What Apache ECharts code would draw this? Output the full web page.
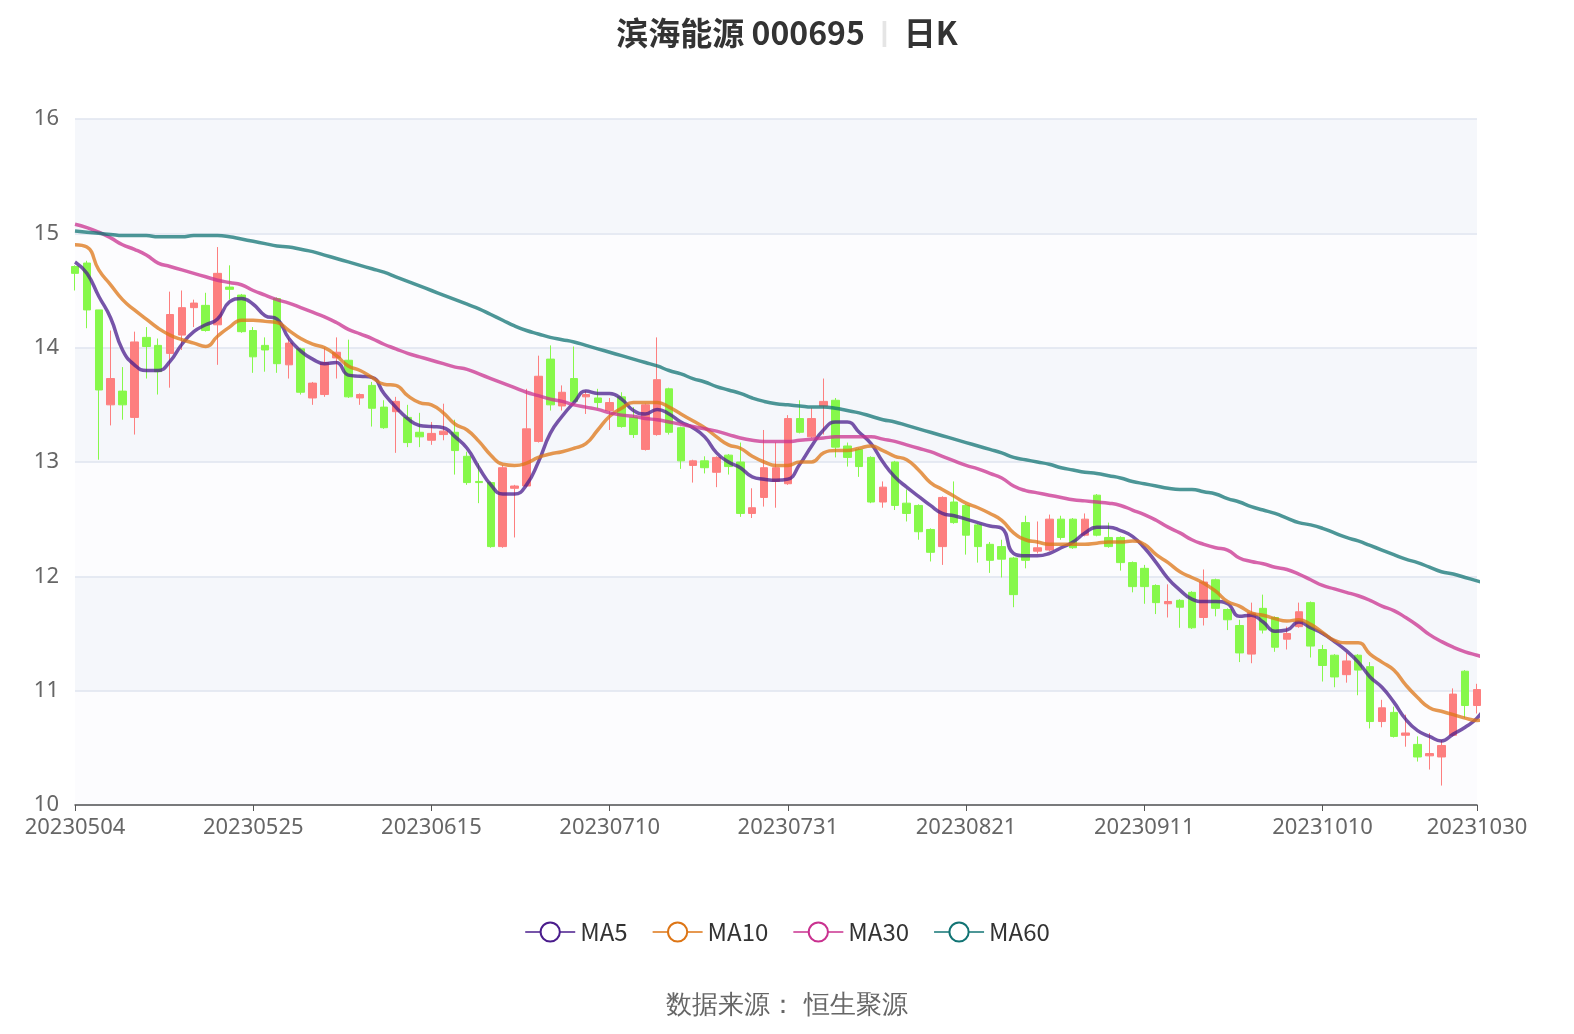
<!DOCTYPE html>
<html><head><meta charset="utf-8">
<script src="https://cdn.jsdelivr.net/npm/echarts@6/dist/echarts.min.js"></script>
<style>html,body{margin:0;padding:0;background:#fff}#c{width:1574px;height:1034px}</style>
</head><body><div id="c"></div>
<script>
const dates = ['20230504','20230505','20230508','20230509','20230510','20230511','20230512','20230515','20230516','20230517','20230518','20230519','20230522','20230523','20230524','20230525','20230526','20230529','20230530','20230531',
'20230601','20230602','20230605','20230606','20230607','20230608','20230609','20230612','20230613','20230614','20230615','20230616','20230619','20230620','20230621','20230626','20230627','20230628','20230629','20230630',
'20230703','20230704','20230705','20230706','20230707','20230710','20230711','20230712','20230713','20230714','20230717','20230718','20230719','20230720','20230721','20230724','20230725','20230726','20230727','20230728','20230731',
'20230801','20230802','20230803','20230804','20230807','20230808','20230809','20230810','20230811','20230814','20230815','20230816','20230817','20230818','20230821','20230822','20230823','20230824','20230825','20230828','20230829','20230830','20230831',
'20230901','20230904','20230905','20230906','20230907','20230908','20230911','20230912','20230913','20230914','20230915','20230918','20230919','20230920','20230921','20230922','20230925','20230926','20230927','20230928',
'20231009','20231010','20231011','20231012','20231013','20231016','20231017','20231018','20231019','20231023','20231024','20231025','20231026','20231027','20231030'];
// [open, close, low, high]
const ohlc = [
[14.71,14.65,14.50,14.72],[14.74,14.33,14.17,14.76],[14.33,13.63,13.02,14.33],[13.50,13.73,13.32,14.15],[13.62,13.50,13.37,13.83],
[13.39,14.05,13.24,14.14],[14.09,14.01,13.73,14.18],[14.02,13.79,13.59,14.08],[13.95,14.29,13.65,14.49],[14.11,14.35,13.98,14.50],
[14.35,14.39,14.18,14.42],[14.37,14.15,14.14,14.48],[14.20,14.65,13.85,14.88],[14.53,14.51,14.42,14.72],[14.46,14.14,14.13,14.47],
[14.15,13.92,13.78,14.18],[14.02,13.98,13.79,14.09],[14.43,13.86,13.78,14.44],[13.85,14.04,13.73,14.08],[13.99,13.61,13.59,14.00],
[13.56,13.69,13.50,13.70],[13.59,13.87,13.57,14.00],[13.91,13.96,13.73,14.09],[13.89,13.57,13.56,14.07],[13.56,13.59,13.50,13.60],
[13.67,13.47,13.31,13.70],[13.48,13.30,13.29,13.54],[13.44,13.53,13.08,13.57],[13.39,13.17,13.13,13.50],[13.26,13.22,13.13,13.43],
[13.19,13.25,13.15,13.35],[13.24,13.27,13.19,13.51],[13.26,13.10,12.89,13.37],[13.05,12.82,12.80,13.09],[12.83,12.82,12.64,12.99],
[12.82,12.26,12.25,12.83],[12.26,12.95,12.25,12.97],[12.77,12.79,12.34,12.80],[12.79,13.29,12.78,13.64],[13.18,13.75,13.17,13.93],
[13.90,13.50,13.45,14.02],[13.49,13.61,13.45,13.67],[13.73,13.53,13.52,14.01],[13.57,13.59,13.42,13.62],[13.56,13.52,13.47,13.64],
[13.45,13.52,13.28,13.56],[13.57,13.31,13.30,13.61],[13.39,13.24,13.21,13.48],[13.11,13.50,13.10,13.51],[13.24,13.72,13.23,14.09],
[13.64,13.26,13.24,13.65],[13.30,13.01,12.94,13.31],[12.97,13.01,12.82,13.02],[13.01,12.95,12.90,13.05],[12.91,13.04,12.78,13.05],
[13.06,12.96,12.89,13.07],[13.00,12.55,12.52,13.17],[12.55,12.60,12.51,12.77],[12.69,12.95,12.61,13.28],[12.83,12.95,12.60,13.17],
[12.81,13.38,12.80,13.41],[13.38,13.26,13.25,13.54],[13.22,13.38,13.21,13.47],[13.49,13.53,13.24,13.73],[13.54,13.13,13.04,13.56],
[13.14,13.04,12.96,13.17],[13.11,12.96,12.87,13.12],[13.04,12.65,12.64,13.05],[12.65,12.78,12.60,12.83],[13.00,12.62,12.58,13.01],
[12.64,12.55,12.48,12.76],[12.62,12.39,12.32,12.63],[12.41,12.21,12.13,12.42],[12.26,12.69,12.10,12.70],[12.65,12.47,12.46,12.83],
[12.62,12.36,12.19,12.63],[12.45,12.26,12.12,12.46],[12.28,12.14,12.03,12.30],[12.26,12.15,11.99,12.32],[12.16,11.84,11.73,12.17],
[12.47,12.14,12.07,12.53],[12.22,12.25,12.20,12.48],[12.23,12.50,12.22,12.54],[12.50,12.34,12.32,12.53],[12.50,12.25,12.24,12.51],
[12.36,12.50,12.35,12.55],[12.71,12.36,12.35,12.72],[12.34,12.26,12.25,12.47],[12.34,12.12,12.05,12.35],[12.12,11.91,11.86,12.13],
[12.07,11.91,11.76,12.10],[11.92,11.77,11.67,11.93],[11.76,11.78,11.64,11.93],[11.79,11.73,11.55,11.80],[11.86,11.55,11.54,11.87],
[11.64,11.95,11.57,12.06],[11.97,11.72,11.65,11.98],[11.71,11.62,11.53,11.72],[11.57,11.33,11.25,11.62],[11.32,11.68,11.24,11.77],
[11.72,11.53,11.50,11.84],[11.64,11.38,11.34,11.65],[11.45,11.50,11.36,11.56],[11.56,11.69,11.55,11.77],[11.77,11.39,11.29,11.78],
[11.36,11.22,11.08,11.40],[11.31,11.12,11.03,11.32],[11.14,11.26,11.07,11.33],[11.31,11.18,10.96,11.32],[11.21,10.73,10.67,11.25],
[10.73,10.85,10.68,10.92],[10.81,10.60,10.59,10.86],[10.61,10.63,10.51,10.79],[10.53,10.42,10.38,10.60],[10.43,10.45,10.31,10.63],
[10.42,10.52,10.17,10.57],[10.61,10.97,10.60,11.02],[11.17,10.87,10.76,11.18],[10.87,11.01,10.80,11.06],[11.12,11.04,10.98,11.13]];
const ma5 = [14.75,14.65,14.45,14.26,13.98,13.85,13.80,13.80,13.88,14.03,14.14,14.20,14.25,14.40,14.43,14.38,14.28,14.25,14.08,13.97,
13.90,13.86,13.87,13.76,13.75,13.74,13.60,13.48,13.38,13.32,13.31,13.30,13.22,13.12,12.95,12.80,12.72,12.72,12.80,13.00,
13.25,13.40,13.52,13.62,13.60,13.60,13.55,13.45,13.42,13.46,13.42,13.35,13.30,13.22,13.08,13.00,12.95,12.87,12.85,12.84,
12.85,12.98,13.14,13.28,13.35,13.35,13.26,13.16,13.00,12.87,12.78,12.70,12.62,12.55,12.53,12.50,12.47,12.44,12.42,12.20,
12.18,12.18,12.20,12.25,12.30,12.38,12.43,12.43,12.40,12.35,12.25,12.12,11.98,11.88,11.80,11.78,11.78,11.76,11.65,11.66,
11.60,11.52,11.53,11.60,11.55,11.50,11.43,11.35,11.25,11.12,11.03,10.90,10.75,10.65,10.60,10.56,10.62,10.68,10.76,10.90];
const ma10 = [14.90,14.88,14.68,14.55,14.42,14.33,14.25,14.17,14.11,14.07,14.04,14.01,14.10,14.18,14.24,14.24,14.23,14.22,14.15,14.08,
14.03,14.00,13.93,13.84,13.80,13.74,13.68,13.67,13.58,13.52,13.50,13.43,13.33,13.28,13.18,13.06,12.98,12.97,12.99,13.04,
13.07,13.09,13.12,13.16,13.28,13.40,13.47,13.52,13.52,13.52,13.48,13.42,13.36,13.30,13.22,13.15,13.12,13.05,13.00,12.97,
12.97,13.00,13.00,13.08,13.10,13.10,13.12,13.14,13.10,13.05,13.02,12.93,12.82,12.76,12.70,12.64,12.60,12.55,12.49,12.38,
12.32,12.30,12.28,12.28,12.28,12.28,12.29,12.30,12.30,12.31,12.28,12.19,12.12,12.04,11.99,11.94,11.87,11.78,11.74,11.68,
11.66,11.63,11.61,11.62,11.58,11.51,11.44,11.42,11.42,11.32,11.25,11.18,11.05,10.94,10.85,10.82,10.79,10.76,10.74,10.76];
const ma30 = [15.08,15.05,15.01,14.96,14.90,14.86,14.81,14.74,14.71,14.68,14.65,14.62,14.59,14.57,14.55,14.50,14.46,14.42,14.39,14.35,
14.31,14.27,14.22,14.16,14.12,14.08,14.03,13.99,13.95,13.92,13.89,13.86,13.83,13.81,13.77,13.73,13.69,13.65,13.61,13.58,
13.55,13.53,13.50,13.48,13.46,13.43,13.41,13.40,13.38,13.37,13.35,13.33,13.31,13.29,13.27,13.24,13.21,13.19,13.18,13.18,
13.18,13.19,13.20,13.21,13.22,13.22,13.22,13.22,13.20,13.18,13.15,13.12,13.09,13.05,13.01,12.97,12.94,12.90,12.86,12.79,
12.75,12.73,12.71,12.69,12.67,12.66,12.65,12.64,12.62,12.58,12.54,12.49,12.43,12.38,12.32,12.28,12.25,12.23,12.16,12.13,
12.11,12.08,12.06,12.02,11.97,11.92,11.89,11.86,11.83,11.79,11.74,11.70,11.64,11.57,11.49,11.43,11.38,11.34,11.31,11.28];
const ma60 = [15.02,15.01,15.00,14.99,14.98,14.98,14.98,14.97,14.97,14.97,14.98,14.98,14.98,14.97,14.95,14.93,14.91,14.89,14.88,14.86,
14.84,14.81,14.78,14.75,14.72,14.69,14.66,14.62,14.58,14.54,14.50,14.46,14.42,14.38,14.34,14.29,14.24,14.19,14.15,14.12,
14.09,14.07,14.05,14.02,13.99,13.96,13.93,13.90,13.87,13.84,13.80,13.77,13.73,13.70,13.66,13.63,13.60,13.56,13.53,13.51,
13.50,13.49,13.48,13.48,13.47,13.45,13.43,13.40,13.37,13.35,13.32,13.29,13.26,13.23,13.20,13.17,13.14,13.11,13.08,13.04,
13.02,13.00,12.98,12.95,12.93,12.91,12.90,12.88,12.86,12.83,12.81,12.79,12.77,12.76,12.76,12.74,12.72,12.68,12.65,12.61,
12.58,12.55,12.51,12.47,12.45,12.42,12.38,12.34,12.31,12.27,12.23,12.19,12.15,12.12,12.08,12.04,12.02,11.99,11.96,11.93];
const yTicks = [10, 16, 1];

const maLine = (name, data, col) => ({
  name, type: 'line', data, smooth: true, symbol: 'emptyCircle', showSymbol: false, symbolSize: 14,
  lineStyle: { width: 3.5, color: col, opacity: 0.75 }, itemStyle: { color: col, borderWidth: 3 }
});
const chart = echarts.init(document.getElementById('c'));
chart.setOption({
  animation: false,
  title: {
    text: '{a|滨海能源 000695}{s|  |  }{a|日K}', left: 'center', top: 12,
    textStyle: { rich: { a: { fontSize: 32, color: '#333', fontFamily: 'Noto Sans CJK SC' }, s: { fontSize: 28, color: '#e5e5e5' } } }
  },
  legend: {
    bottom: 85, itemWidth: 50, itemHeight: 24, itemGap: 24,
    textStyle: { fontSize: 24, color: '#333', fontFamily: 'Noto Sans CJK SC' },
    data: ['MA5', 'MA10', 'MA30', 'MA60']
  },
  graphic: [{ type: 'text', left: 'center', top: 993, style: { text: '数据来源： 恒生聚源', fontSize: 26, fill: '#666', font: '26px "Noto Sans CJK SC"' } }],
  grid: { left: 75, right: 97, top: 119, bottom: 229 },
  xAxis: {
    type: 'category', data: dates, boundaryGap: false,
    axisLine: { lineStyle: { color: '#555', width: 1.5 } },
    axisTick: { alignWithLabel: true, interval: 14, length: 6, lineStyle: { color: '#555' } },
    axisLabel: { interval: 14, showMaxLabel: true, fontSize: 22, color: '#666', margin: 12, fontFamily: 'Noto Sans' }
  },
  yAxis: {
    type: 'value', min: yTicks[0], max: yTicks[1], interval: yTicks[2],
    axisLabel: { fontSize: 22, color: '#666', margin: 16, fontFamily: 'Noto Sans' },
    splitLine: { lineStyle: { color: '#dfe4ef', width: 1.5 } },
    splitArea: { show: true, areaStyle: { color: ['#fcfcfe', '#f5f7fb'] } }
  },
  series: [
    { name: 'K', type: 'candlestick', data: ohlc, barWidth: 8,
      itemStyle: { color: '#fd7f7f', color0: '#86f84a', borderColor: '#fd7f7f', borderColor0: '#86f84a', borderWidth: 1 } },
    maLine('MA5', ma5, '#4a1c8c'),
    maLine('MA10', ma10, '#dd7515'),
    maLine('MA30', ma30, '#c9318f'),
    maLine('MA60', ma60, '#127474')
  ]
});
</script></body></html>
